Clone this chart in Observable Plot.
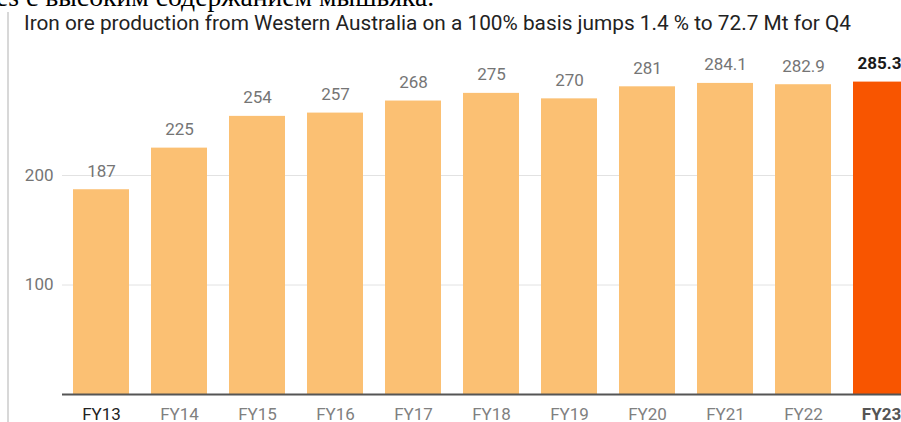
<!DOCTYPE html>
<html>
<head>
<meta charset="utf-8">
<script src="https://cdn.jsdelivr.net/npm/d3@7"></script>
<script src="https://cdn.jsdelivr.net/npm/@observablehq/plot@0.6"></script>
<style>
  html, body { margin: 0; padding: 0; background: #fff; }
  #wrap { position: relative; width: 901px; height: 422px; overflow: hidden; background: #fff; }
  #head { position: relative; height: 40px; }
  #ru { position: absolute; left: -4px; top: -19px; font-family: "Liberation Serif", serif; font-size: 27.7px; line-height: normal; color: #000; white-space: nowrap; }
  #title { position: absolute; left: 24px; top: 11px; font-family: Roboto, sans-serif; font-size: 20.8px; line-height: normal; color: #222; white-space: nowrap; }
  #vline { position: absolute; left: 7px; top: 12px; width: 2px; height: 410px; background: #d8d8d8; z-index: 2; }
  #chart svg { display: block; }
</style>
</head>
<body>
<div id="wrap">
  <div id="head">
    <div id="ru">es с высоким содержанием мышьяка.</div>
    <div id="title">Iron ore production from Western Australia on a 100% basis jumps 1.4 % to 72.7 Mt for Q4</div>
  </div>
  <div id="vline"></div>
  <div id="chart"></div>
</div>
<script>
const years = ["FY13", "FY14", "FY15", "FY16", "FY17", "FY18", "FY19", "FY20", "FY21", "FY22", "FY23"];
const values = [187, 225, 254, 257, 268, 275, 270, 281, 284.1, 282.9, 285.3];
const valueLabels = ["187", "225", "254", "257", "268", "275", "270", "281", "284.1", "282.9", "285.3"];
const yTicks = [100, 200];
const highlight = "FY23";
const firstYear = "FY13";

const lightColor = "#FBC073";
const darkColor = "#F85500";

const data = years.map((year, i) => ({year, value: values[i], label: valueLabels[i]}));
const isHi = d => d.year === highlight;
const notHi = d => d.year !== highlight;

const chart = Plot.plot({
  width: 901,
  height: 382,
  marginLeft: 62,
  marginRight: 0,
  marginTop: 0,
  marginBottom: 28,
  style: {fontFamily: "Roboto, sans-serif", fontSize: "17px", overflow: "hidden", background: "transparent"},
  x: {type: "band", domain: years, range: [62, 920], paddingInner: 0.282, paddingOuter: 0.141, axis: null},
  y: {domain: [0, 300], range: [354, 25.5], axis: null},
  marks: [
    Plot.ruleY(yTicks, {stroke: "#e2e2e2", strokeWidth: 1}),
    Plot.barY(data, {filter: notHi, x: "year", y: "value", fill: lightColor}),
    Plot.barY(data, {filter: isHi, x: "year", y: "value", fill: darkColor}),
    Plot.ruleY([0], {stroke: "#555", strokeWidth: 2}),
    Plot.axisY({ticks: yTicks, tickSize: 0, tickPadding: 9, label: null, fontSize: 17, fill: "#757575"}),
    Plot.text(data, {filter: notHi, x: "year", y: "value", text: "label", lineAnchor: "bottom", dy: -13, fontSize: 17, fill: "#757575"}),
    Plot.text(data, {filter: isHi, x: "year", y: "value", text: "label", lineAnchor: "bottom", dy: -13, dx: -2, fontSize: 17, fontWeight: "bold", fill: "#1a1a1a"}),
    Plot.text(data, {filter: d => d.year !== highlight && d.year !== firstYear, x: "year", frameAnchor: "bottom", text: "year", lineAnchor: "bottom", dy: 25, fontSize: 17, fill: "#808080"}),
    Plot.text(data, {filter: d => d.year === firstYear, x: "year", frameAnchor: "bottom", text: "year", lineAnchor: "bottom", dy: 25, fontSize: 17, fill: "#222"}),
    Plot.text(data, {filter: isHi, x: "year", frameAnchor: "bottom", text: "year", lineAnchor: "bottom", dy: 25, fontSize: 17, fontWeight: "bold", fill: "#555"})
  ]
});
document.getElementById("chart").appendChild(chart);
</script>
</body>
</html>
